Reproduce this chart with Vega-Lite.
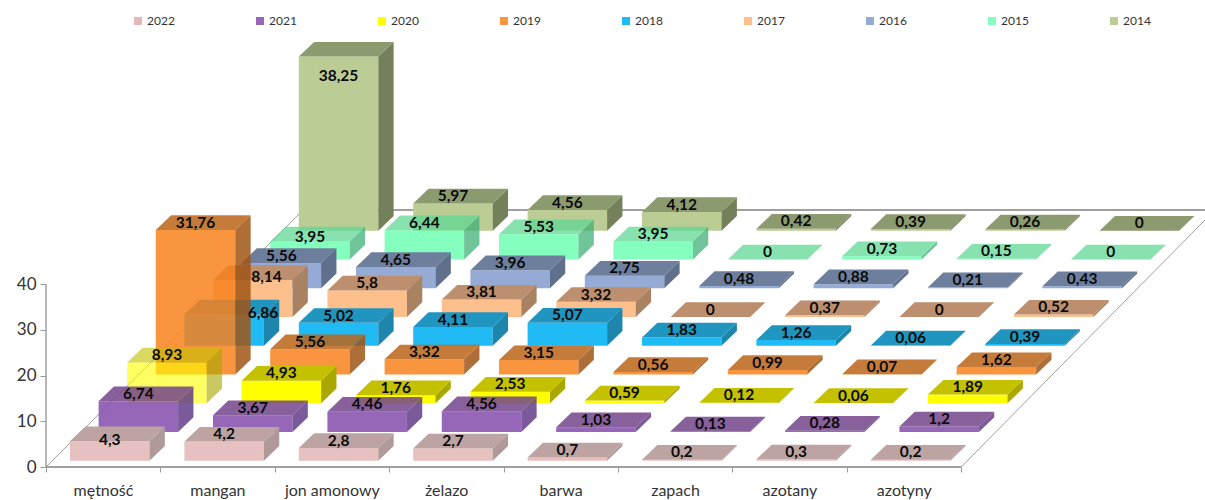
{"$schema":"https://vega.github.io/schema/vega-lite/v6.json","width":1159,"height":467,"autosize":"none","padding":{"left":46,"top":0,"right":0,"bottom":33},"background":"white","config":{"view":{"stroke":null},"font":"Lato"},"datasets":{"bars":[
{"series":"2014","category":"mętność","value":38.25},{"series":"2014","category":"mangan","value":5.97},{"series":"2014","category":"jon amonowy","value":4.56},{"series":"2014","category":"żelazo","value":4.12},{"series":"2014","category":"barwa","value":0.42},{"series":"2014","category":"zapach","value":0.39},{"series":"2014","category":"azotany","value":0.26},{"series":"2014","category":"azotyny","value":0},
{"series":"2015","category":"mętność","value":3.95},{"series":"2015","category":"mangan","value":6.44},{"series":"2015","category":"jon amonowy","value":5.53},{"series":"2015","category":"żelazo","value":3.95},{"series":"2015","category":"barwa","value":0},{"series":"2015","category":"zapach","value":0.73},{"series":"2015","category":"azotany","value":0.15},{"series":"2015","category":"azotyny","value":0},
{"series":"2016","category":"mętność","value":5.56},{"series":"2016","category":"mangan","value":4.65},{"series":"2016","category":"jon amonowy","value":3.96},{"series":"2016","category":"żelazo","value":2.75},{"series":"2016","category":"barwa","value":0.48},{"series":"2016","category":"zapach","value":0.88},{"series":"2016","category":"azotany","value":0.21},{"series":"2016","category":"azotyny","value":0.43},
{"series":"2017","category":"mętność","value":8.14},{"series":"2017","category":"mangan","value":5.8},{"series":"2017","category":"jon amonowy","value":3.81},{"series":"2017","category":"żelazo","value":3.32},{"series":"2017","category":"barwa","value":0},{"series":"2017","category":"zapach","value":0.37},{"series":"2017","category":"azotany","value":0},{"series":"2017","category":"azotyny","value":0.52},
{"series":"2018","category":"mętność","value":6.86},{"series":"2018","category":"mangan","value":5.02},{"series":"2018","category":"jon amonowy","value":4.11},{"series":"2018","category":"żelazo","value":5.07},{"series":"2018","category":"barwa","value":1.83},{"series":"2018","category":"zapach","value":1.26},{"series":"2018","category":"azotany","value":0.06},{"series":"2018","category":"azotyny","value":0.39},
{"series":"2019","category":"mętność","value":31.76},{"series":"2019","category":"mangan","value":5.56},{"series":"2019","category":"jon amonowy","value":3.32},{"series":"2019","category":"żelazo","value":3.15},{"series":"2019","category":"barwa","value":0.56},{"series":"2019","category":"zapach","value":0.99},{"series":"2019","category":"azotany","value":0.07},{"series":"2019","category":"azotyny","value":1.62},
{"series":"2020","category":"mętność","value":8.93},{"series":"2020","category":"mangan","value":4.93},{"series":"2020","category":"jon amonowy","value":1.76},{"series":"2020","category":"żelazo","value":2.53},{"series":"2020","category":"barwa","value":0.59},{"series":"2020","category":"zapach","value":0.12},{"series":"2020","category":"azotany","value":0.06},{"series":"2020","category":"azotyny","value":1.89},
{"series":"2021","category":"mętność","value":6.74},{"series":"2021","category":"mangan","value":3.67},{"series":"2021","category":"jon amonowy","value":4.46},{"series":"2021","category":"żelazo","value":4.56},{"series":"2021","category":"barwa","value":1.03},{"series":"2021","category":"zapach","value":0.13},{"series":"2021","category":"azotany","value":0.28},{"series":"2021","category":"azotyny","value":1.2},
{"series":"2022","category":"mętność","value":4.3},{"series":"2022","category":"mangan","value":4.2},{"series":"2022","category":"jon amonowy","value":2.8},{"series":"2022","category":"żelazo","value":2.7},{"series":"2022","category":"barwa","value":0.7},{"series":"2022","category":"zapach","value":0.2},{"series":"2022","category":"azotany","value":0.3},{"series":"2022","category":"azotyny","value":0.2}
],"floor":[
{"edge":"left","u":0,"h":0},{"edge":"left","u":2.247,"h":56.17},
{"edge":"back","u":2.247,"h":56.17},{"edge":"back","u":10.131,"h":56.17},
{"edge":"right","u":8,"h":0},{"edge":"right","u":10.131,"h":54},
{"edge":"front","u":0,"h":0},{"edge":"front","u":8,"h":0}
]},"layer":[
{"data":{"name":"floor"},"mark":{"type":"line","clip":false},"encoding":{"x":{"field":"u","type":"quantitative","scale":{"domain":[0,10.131],"nice":false,"zero":false},"axis":{"values":[0,1,2,3,4,5,6,7,8],"title":null,"grid":false,"domain":false,"tickColor":"#999999","tickSize":5,"labelOffset":57,"labelFlush":false,"labelBound":false,"labelOverlap":false,"labelExpr":"['mętność','mangan','jon amonowy','żelazo','barwa','zapach','azotany','azotyny',''][datum.value]","labelFontSize":16,"labelColor":"#333333","labelPadding":10,"labelFont":"Lato"}},"y":{"field":"h","type":"quantitative","scale":{"domain":[0,102.08],"nice":false,"zero":false},"axis":{"values":[0,10,20,30,40],"title":null,"grid":false,"domain":false,"tickColor":"#999999","tickSize":6,"labelFontSize":17,"labelColor":"#333333","labelPadding":4,"labelFont":"Lato"}},"detail":{"field":"edge"},"color":{"value":"#A0A0A0"},"strokeWidth":{"condition":{"test":"datum.edge=='left'||datum.edge=='right'","value":1},"value":2}}},
{"data":{"values":[{"axisLine":"y"}]},"mark":{"type":"rule","color":"#A0A0A0","strokeWidth":1.5},"encoding":{"x":{"datum":0,"type":"quantitative"},"y":{"datum":0,"type":"quantitative"},"y2":{"datum":40}}},
{"data":{"name":"bars"},"transform":[
{"calculate":"indexof(['mętność','mangan','jon amonowy','żelazo','barwa','zapach','azotany','azotyny'],datum.category)","as":"c"},
{"calculate":"2022-toNumber(datum.series)","as":"s"},
{"calculate":"datum.c+0.2098+datum.s*0.25","as":"L"},
{"calculate":"datum.L+0.695","as":"R"},
{"calculate":"1.377+datum.s*6.284","as":"B"},
{"calculate":"datum.B+datum.value*0.995","as":"T"},
{"calculate":"['front','side','top']","as":"face"},
{"flatten":["face"]},
{"calculate":"[0,1,2,3]","as":"v"},
{"flatten":["v"]},
{"calculate":"datum.face=='front'?[datum.L,datum.R,datum.R,datum.L][datum.v]:datum.face=='top'?[datum.L,datum.R,datum.R+0.134,datum.L+0.134][datum.v]:[datum.R,datum.R+0.134,datum.R+0.134,datum.R][datum.v]","as":"px"},
{"calculate":"datum.face=='front'?[datum.B,datum.B,datum.T,datum.T][datum.v]:datum.face=='top'?[datum.T,datum.T,datum.T+3.21,datum.T+3.21][datum.v]:[datum.B,datum.B+3.21,datum.T+3.21,datum.T][datum.v]","as":"py"},
{"calculate":"datum.series+'|'+datum.face","as":"key"},
{"calculate":"datum.series+'|'+datum.category+'|'+datum.face","as":"poly"},
{"calculate":"datum.series=='2020'&&datum.c==0?0.62:datum.series=='2019'||datum.series=='2021'?0.85:datum.series=='2015'?0.75:1","as":"alpha"}
],"mark":{"type":"line","strokeWidth":0,"interpolate":"linear-closed"},"encoding":{"x":{"field":"px","type":"quantitative"},"y":{"field":"py","type":"quantitative"},"detail":{"field":"poly"},"order":{"field":"v"},"fill":{"field":"key","type":"nominal","legend":null,"scale":{"domain":["2022|front","2022|top","2022|side","2021|front","2021|top","2021|side","2020|front","2020|top","2020|side","2019|front","2019|top","2019|side","2018|front","2018|top","2018|side","2017|front","2017|top","2017|side","2016|front","2016|top","2016|side","2015|front","2015|top","2015|side","2014|front","2014|top","2014|side"],"range":["#E6C1C0","#BDA3A2","#B09A99","#844BAC","#73448B","#633D88","#FFFF00","#C4C200","#AAA800","#F8811D","#BB6519","#A05515","#20BAF5","#2095BF","#1E86AD","#FDBF8B","#BD8F6E","#A98262","#95ABD5","#6E7F9E","#5F6F8C","#5CFFA8","#5FD895","#40B078","#BBCC95","#8C9A70","#748059"]}},"opacity":{"field":"alpha","type":"quantitative","scale":null}}},
{"data":{"name":"bars"},"transform":[
{"calculate":"indexof(['mętność','mangan','jon amonowy','żelazo','barwa','zapach','azotany','azotyny'],datum.category)","as":"c"},
{"calculate":"2022-toNumber(datum.series)","as":"s"},
{"calculate":"datum.c+0.2098+datum.s*0.25+0.3475+(datum.value==6.86?0.34:datum.value==8.14?0.12:0)","as":"lx"},
{"calculate":"1.377+datum.s*6.284+datum.value*0.995+(datum.value==38.25?-4.15:datum.value==4.3?0.2:datum.value==6.86?0.3:datum.value==8.14?0.7:datum.value==3.95&&datum.c==0?1:1.6)","as":"ly"},
{"calculate":"replace(toString(datum.value),'.',',')","as":"txt"}
],"mark":{"type":"text","font":"Lato","fontWeight":"bold","fontSize":15.5,"color":"#0A0A0A","baseline":"middle","align":"center"},"encoding":{"x":{"field":"lx","type":"quantitative"},"y":{"field":"ly","type":"quantitative"},"text":{"field":"txt"}}},
{"data":{"name":"bars"},"transform":[{"filter":"datum.category=='mętność'"}],"mark":{"type":"point","filled":true,"size":0},"encoding":{"x":{"datum":0,"type":"quantitative"},"y":{"datum":0,"type":"quantitative"},"color":{"field":"series","type":"nominal","scale":{"domain":["2022","2021","2020","2019","2018","2017","2016","2015","2014"],"range":["#E6B9B8","#9666B8","#FFFF00","#F9943F","#20BAF5","#FDBF8B","#95ABD5","#85FFBE","#BBCC95"]},"legend":{"orient":"none","legendX":86,"legendY":15,"direction":"horizontal","columns":9,"title":null,"symbolType":"square","symbolSize":64,"symbolStrokeWidth":0,"symbolOpacity":1,"labelFontSize":12,"labelColor":"#333333","labelFont":"Lato","labelOffset":3,"columnPadding":79}}}}
]}
